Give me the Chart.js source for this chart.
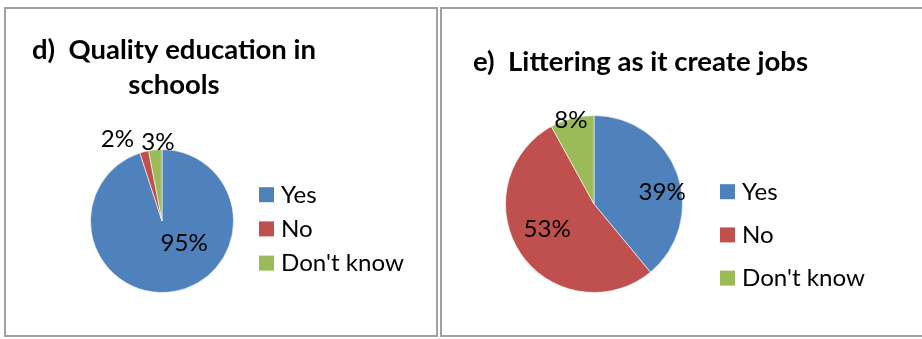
<!DOCTYPE html>
<html><head><meta charset="utf-8">
<script src="https://cdn.jsdelivr.net/npm/chart.js@4.4.1/dist/chart.umd.min.js"></script>
<style>
html,body{margin:0;padding:0;background:#fff;width:922px;height:339px;overflow:hidden;}
.panel{position:absolute;border:2px solid #a0a0a0;box-sizing:border-box;}
canvas{position:absolute;top:0;}
</style></head><body>
<div class="panel" style="left:4px;top:7px;width:434px;height:330px"></div>
<div class="panel" style="left:440px;top:7px;width:500px;height:330px"></div>
<canvas id="c1" width="440" height="339" style="left:0;width:440px;height:339px"></canvas>
<canvas id="c2" width="482" height="339" style="left:440px;width:482px;height:339px"></canvas>
<script>
// ---- data ----
const categories = ['Yes', 'No', "Don't know"];
const qualityEducation = [95, 2, 3];
const litteringJobs = [39, 53, 8];
const titleD = ['d)  Quality education in', 'schools'];
const titleE = ['e)  Littering as it create jobs'];
const sliceColors = ['#4F81BD', '#C0504D', '#9BBB59'];

const FAMILY = 'Lato, "Open Sans", sans-serif';
const CAP_RATIO = 0.7165; // Lato cap height / em

// font size from a cap height, horizontal scale from a target width
function fitFont(ctx, text, weight, capPx, targetWidth) {
  const size = capPx / CAP_RATIO;
  const font = weight + ' ' + size.toFixed(2) + 'px ' + FAMILY;
  ctx.font = font;
  const sx = targetWidth / ctx.measureText(text).width;
  return { font, sx };
}
function drawText(ctx, text, x, y, sx, align) {
  ctx.save();
  ctx.translate(x, y);
  ctx.scale(sx, 1);
  ctx.textAlign = align;
  ctx.fillText(text, 0, 0);
  ctx.restore();
}

const excelText = {
  id: 'excelText',
  afterDraw(chart, args, o) {
    const ctx = chart.ctx;
    ctx.save();
    ctx.fillStyle = '#000';
    // title
    const tf = fitFont(ctx, o.title.lines[0], 'bold', o.title.cap, o.title.fitWidth);
    ctx.font = tf.font;
    ctx.textBaseline = 'alphabetic';
    o.title.lines.forEach((line, i) => {
      drawText(ctx, line, o.title.cx, o.title.baseline + i * o.title.lineGap, tf.sx, 'center');
    });
    // legend + data labels share the font
    const lf = fitFont(ctx, categories[2], 'normal', o.legend.cap, o.legend.fitWidth);
    ctx.font = lf.font;
    ctx.textBaseline = 'alphabetic';
    const ds = chart.data.datasets[0];
    const capHalf = o.legend.cap / 2;
    chart.data.labels.forEach((lab, i) => {
      const cy = o.legend.y0 + i * o.legend.gap;
      ctx.fillStyle = ds.backgroundColor[i];
      ctx.fillRect(o.legend.x, cy - o.legend.box / 2, o.legend.box, o.legend.box);
      ctx.fillStyle = '#000';
      drawText(ctx, lab, o.legend.x + o.legend.box + o.legend.textGap, cy + capHalf, lf.sx, 'left');
    });
    const meta = chart.getDatasetMeta(0);
    meta.data.forEach((arc, i) => {
      const off = o.labelOffsets[i];
      const r = arc.outerRadius;
      drawText(ctx, ds.data[i] + '%', arc.x + off[0] * r, arc.y + off[1] * r + capHalf, lf.sx, 'center');
    });
    ctx.restore();
  }
};

function makePie(id, values, padding, textOpts) {
  return new Chart(document.getElementById(id), {
    type: 'pie',
    data: {
      labels: categories,
      datasets: [{
        data: values,
        backgroundColor: sliceColors,
        borderColor: 'rgba(255,255,255,0.6)',
        borderWidth: 1,
        hoverOffset: 0
      }]
    },
    options: {
      responsive: false,
      animation: false,
      layout: { padding: padding },
      plugins: {
        legend: { display: false },
        title: { display: false },
        tooltip: { enabled: false },
        excelText: textOpts
      }
    },
    plugins: [excelText]
  });
}

makePie('c1', qualityEducation,
  { left: 90, right: 206, top: 149, bottom: 46 },
  {
    title: { lines: titleD, cx: 174, baseline: 58.5, lineGap: 35, cap: 19.5, fitWidth: 284 },
    legend: { x: 259, y0: 194.7, gap: 34.2, box: 15, textGap: 7, cap: 16, fitWidth: 123 },
    labelOffsets: [[0.31, 0.31], [-0.625, -1.15], [-0.056, -1.10]]
  });

makePie('c2', litteringJobs,
  { left: 65, right: 239, top: 115, bottom: 46 },
  {
    title: { lines: titleE, cx: 200.5, baseline: 71, lineGap: 35, cap: 19.5, fitWidth: 335 },
    legend: { x: 280, y0: 191.7, gap: 43.2, box: 15, textGap: 7, cap: 16, fitWidth: 123 },
    labelOffsets: [[0.77, -0.14], [-0.53, 0.285], [-0.26, -0.945]]
  });
</script>
</body></html>
